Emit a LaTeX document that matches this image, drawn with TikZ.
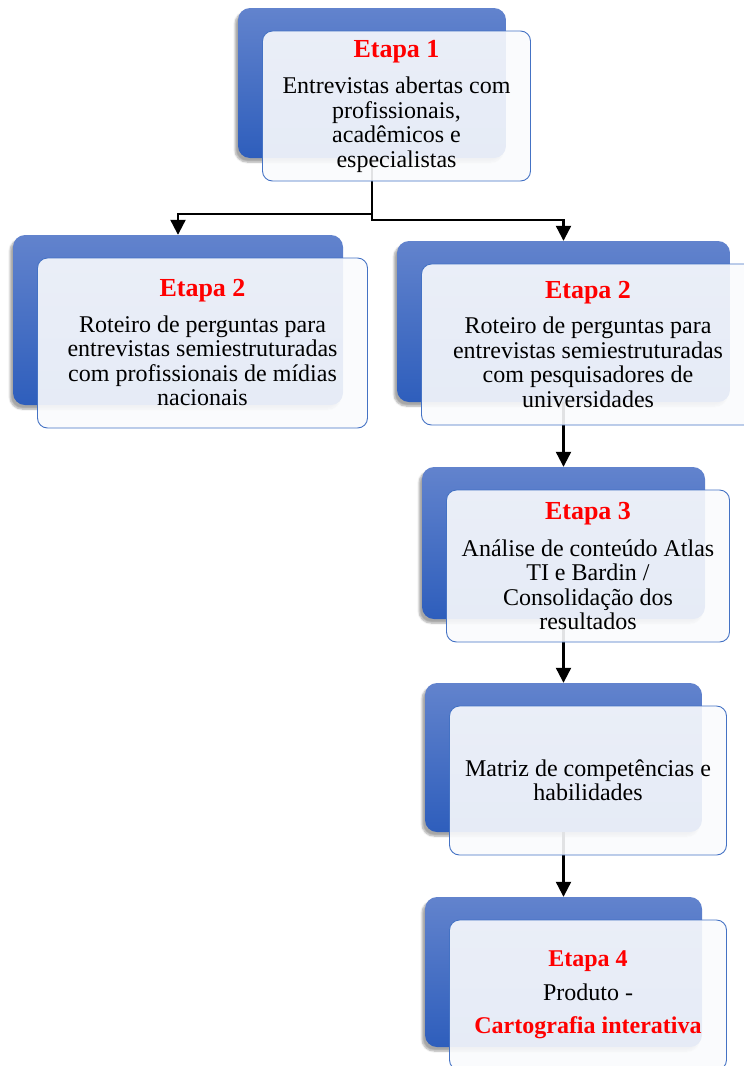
\documentclass[tikz,border=0pt]{standalone}
\usepackage{fontspec}
\setmainfont{Liberation Serif}
\usetikzlibrary{arrows.meta,shadows.blur}
\definecolor{backtop}{RGB}{98,131,205}
\definecolor{backbot}{RGB}{46,94,188}
\definecolor{frontline}{RGB}{68,114,196}
\definecolor{frontfill}{RGB}{250,251,253}
\newcommand{\etapa}[1]{{\fontsize{26}{26}\selectfont\bfseries\color{red}#1}}

\begin{document}
\begin{tikzpicture}[x=1pt,y=-1pt,
    back/.style={rounded corners=12pt,top color=backtop,bottom color=backbot,draw=none,
      blur shadow={shadow xshift=-3pt,shadow yshift=-4pt,shadow blur steps=6,shadow opacity=35}},
    front/.style={rounded corners=10pt,draw=frontline,line width=0.9pt,fill=frontfill,
      fill opacity=0.9,text opacity=1,align=center,inner sep=0pt,
      font=\fontsize{24}{24.5}\selectfont},
    conn/.style={line width=2.2pt,-{Triangle[width=15pt,length=15pt]}}]
  \useasboundingbox (0,0) rectangle (744,1066);
  \node[back,minimum width=268pt,minimum height=150pt] (bk1) at (372,83) {};
  \node[back,minimum width=330pt,minimum height=170pt] (bk2) at (178,320) {};
  \node[back,minimum width=333pt,minimum height=161pt] (bk3) at (563.5,321.5) {};
  \node[back,minimum width=283pt,minimum height=152pt] (bk4) at (563.5,543) {};
  \node[back,minimum width=277pt,minimum height=149pt] (bk5) at (563.5,757.5) {};
  \node[back,minimum width=277pt,minimum height=150pt] (bk6) at (563.5,972) {};
  \draw[conn] (bk1.south) |- ([yshift=21pt]bk2.north) -- (bk2.north);
  \draw[conn] (bk1.south) |- ([yshift=21pt]bk3.north) -- (bk3.north);
  \draw[conn] (bk3.south) -- (bk4.north);
  \draw[conn] (bk4.south) -- (bk5.north);
  \draw[conn] (bk5.south) -- (bk6.north);
  \node[front,minimum width=268pt,minimum height=150pt] (fr1) at ([shift={(24.5pt,-23pt)}]bk1.center)
    {\etapa{Etapa 1}\\[12pt] Entrevistas abertas com\\ profissionais,\\ acadêmicos e\\ especialistas};
  \node[front,minimum width=330pt,minimum height=170pt] (fr2) at ([shift={(24.5pt,-23pt)}]bk2.center)
    {\etapa{Etapa 2}\\[11pt] Roteiro de perguntas para\\ entrevistas semiestruturadas\\ com profissionais de mídias\\ nacionais};
  \node[front,minimum width=333pt,minimum height=161pt] (fr3) at ([shift={(24.5pt,-23pt)}]bk3.center)
    {\etapa{Etapa 2}\\[11pt] Roteiro de perguntas para\\ entrevistas semiestruturadas\\ com pesquisadores de\\ universidades};
  \node[front,minimum width=283pt,minimum height=152pt] (fr4) at ([shift={(24.5pt,-23pt)}]bk4.center)
    {\etapa{Etapa 3}\\[12pt] Análise de conteúdo Atlas\\ TI e Bardin /\\ Consolidação dos\\ resultados};
  \node[front,minimum width=277pt,minimum height=149pt] (fr5) at ([shift={(24.5pt,-23pt)}]bk5.center)
    {Matriz de competências e\\ habilidades};
  \node[front,minimum width=277pt,minimum height=150pt] (fr6) at ([shift={(24.5pt,-23pt)}]bk6.center)
    {{\bfseries\color{red}Etapa 4}\\[9pt] Produto -\\[9pt] {\bfseries\color{red}Cartografia interativa}};
\end{tikzpicture}
\end{document}
